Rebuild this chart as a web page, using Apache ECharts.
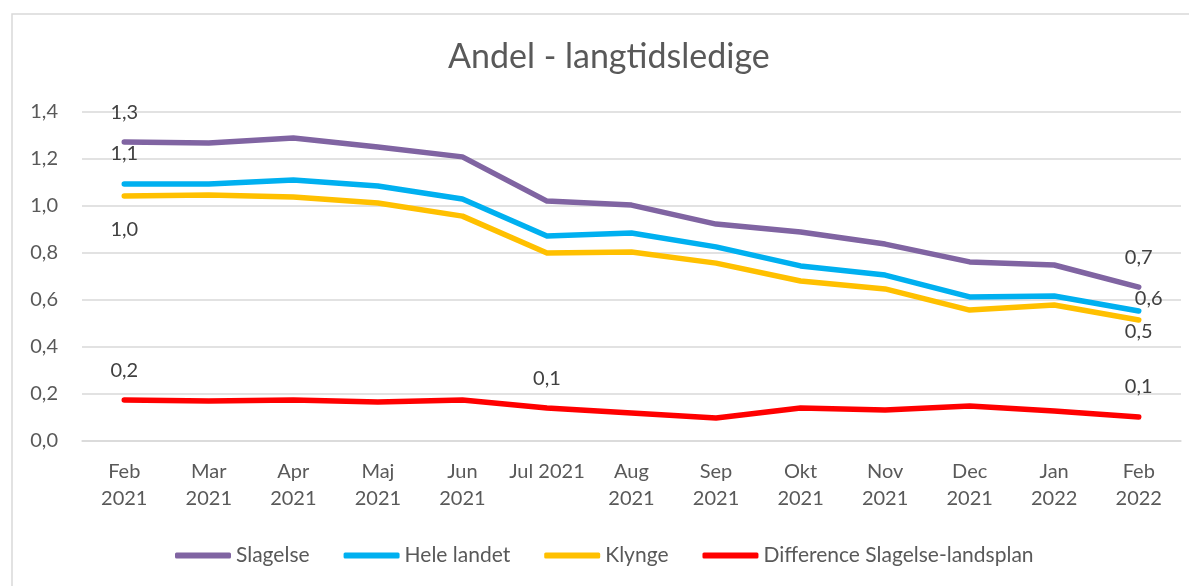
<!DOCTYPE html>
<html>
<head>
<meta charset="utf-8">
<script src="https://cdn.jsdelivr.net/npm/echarts@6/dist/echarts.min.js"></script>
<style>
  html, body { margin: 0; padding: 0; background: #fff; }
  #chart { width: 1189px; height: 586px; }
</style>
</head>
<body>
<div id="chart"></div>
<script>
// data
const categories = ['Feb\n2021', 'Mar\n2021', 'Apr\n2021', 'Maj\n2021', 'Jun\n2021', 'Jul 2021', 'Aug\n2021',
  'Sep\n2021', 'Okt\n2021', 'Nov\n2021', 'Dec\n2021', 'Jan\n2022', 'Feb\n2022']
const slagelse = [1.272, 1.268, 1.289, 1.251, 1.209, 1.021, 1.004, 0.923, 0.889, 0.838, 0.762, 0.749, 0.655]
const heleLandet = [1.094, 1.094, 1.111, 1.085, 1.030, 0.872, 0.885, 0.826, 0.745, 0.706, 0.613, 0.617, 0.553]
const klynge = [1.043, 1.047, 1.038, 1.013, 0.957, 0.800, 0.804, 0.757, 0.681, 0.647, 0.557, 0.579, 0.515]
const difference = [0.174, 0.170, 0.174, 0.166, 0.174, 0.140, 0.119, 0.098, 0.140, 0.132, 0.149, 0.128, 0.102]

const font = 'Lato'
const fmt = v => v.toFixed(1).replace('.', ',')

// which points get a data label, and where
function withLabels (values, labels) {
  return values.map((v, i) => {
    if (!labels[i]) return v
    return {
      value: v,
      label: Object.assign({
        show: true,
        fontFamily: font,
        fontSize: 20,
        color: '#404040',
        formatter: p => fmt(p.value)
      }, labels[i])
    }
  })
}
const above = { position: 'top', distance: 20 }

const chart = echarts.init(document.getElementById('chart'))
const lineSeries = (name, color, data) => ({
  name: name,
  type: 'line',
  data: data,
  symbol: 'circle',
  symbolSize: 0,
  showSymbol: true,
  lineStyle: { color: color, width: 5.5, cap: 'round', join: 'round' },
  itemStyle: { color: color },
  emphasis: { disabled: true }
})

chart.setOption({
  animation: false,
  title: {
    text: 'Andel - langtidsledige',
    left: 448,
    top: 40,
    padding: 0,
    textStyle: { fontFamily: font, fontSize: 34, fontWeight: 'normal', color: '#595959' }
  },
  graphic: [{
    type: 'rect',
    shape: { x: 12, y: 14, width: 1250, height: 650 },
    style: { fill: 'none', stroke: '#d9d9d9', lineWidth: 1.5 },
    silent: true
  }],
  legend: {
    left: 170,
    top: 540,
    itemWidth: 56,
    itemHeight: 6,
    itemGap: 34,
    icon: 'roundRect',
    textStyle: { fontFamily: font, fontSize: 21, color: '#595959' },
    data: ['Slagelse', 'Hele landet', 'Klynge', 'Difference Slagelse-landsplan']
  },
  grid: { left: 82, right: 8, top: 112, bottom: 145, containLabel: false },
  xAxis: {
    type: 'category',
    data: categories,
    boundaryGap: true,
    axisTick: { show: false },
    axisLine: { lineStyle: { color: '#d9d9d9', width: 1.5 } },
    axisLabel: { fontFamily: font, fontSize: 20, lineHeight: 27, color: '#595959', margin: 17, interval: 0 }
  },
  yAxis: {
    type: 'value',
    min: 0,
    max: 1.4,
    interval: 0.2,
    axisLine: { show: false },
    axisTick: { show: false },
    splitLine: { lineStyle: { color: '#d9d9d9', width: 1.5 } },
    axisLabel: { fontFamily: font, fontSize: 20, color: '#595959', margin: 24, formatter: fmt }
  },
  series: [
    lineSeries('Slagelse', '#8064A2', withLabels(slagelse, { 0: above, 12: above })),
    lineSeries('Hele landet', '#00B0F0', withLabels(heleLandet, {
      0: above,
      12: { position: 'top', distance: 2, offset: [10, 0] }
    })),
    lineSeries('Klynge', '#FFC000', withLabels(klynge, {
      0: { position: 'bottom', distance: 24 },
      12: { position: 'bottom', distance: 2 }
    })),
    lineSeries('Difference Slagelse-landsplan', '#FF0000', withLabels(difference, { 0: above, 5: above, 12: above }))
  ]
})
</script>
</body>
</html>
